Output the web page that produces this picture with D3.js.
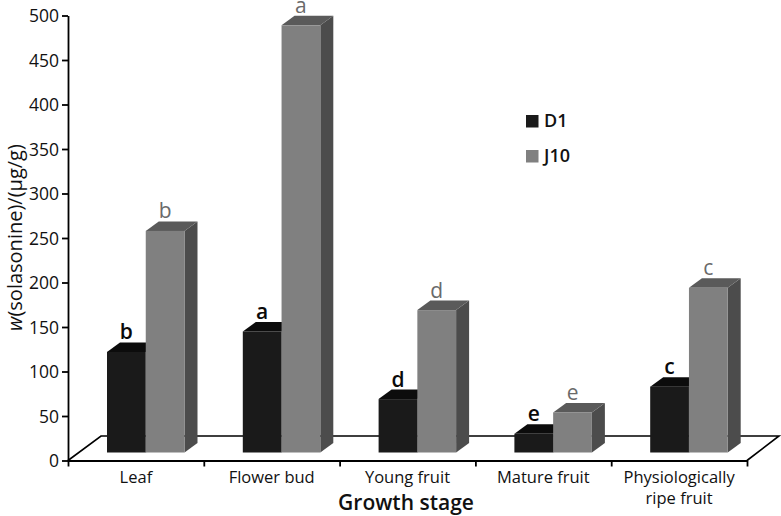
<!DOCTYPE html>
<html>
<head>
<meta charset="utf-8">
<script src="https://cdn.jsdelivr.net/npm/d3@7"></script>
<style>
  body { margin: 0; background: #fff; }
  text { font-family: "Open Sans", sans-serif; fill: #111; }
</style>
</head>
<body>
<div id="chart"></div>
<script>
'use strict';

var categories = ['Leaf', 'Flower bud', 'Young fruit', 'Mature fruit', 'Physiologically|ripe fruit'];
var seriesNames = ['D1', 'J10'];
var d1Values = [113, 136, 60, 21, 74];
var j10Values = [249, 480, 160, 45, 185];
var d1Letters = ['b', 'a', 'd', 'e', 'c'];
var j10Letters = ['b', 'a', 'd', 'e', 'c'];
var yTicks = [0, 50, 100, 150, 200, 250, 300, 350, 400, 450, 500];

var width = 781, height = 516;
var x0 = 68, x1 = 747, yBottom = 460.5, yTop = 15.5;
var depthX = 13, depthY = 9.5;   // oblique offset of the bar depth
var floorX = 33, floorY = 24.5;  // oblique offset of the floor
var frontBase = 8;               // bars stand this far above the axis line

var colors = {
    D1: { front: '#1a1a1a', top: '#0c0c0c', side: '#2a2a2a', label: '#0a0a0a' },
    J10: { front: '#808080', top: '#5a5a5a', side: '#4c4c4c', label: '#6a6a6a' }
};

var svg = d3.select('#chart').append('svg')
    .attr('width', width)
    .attr('height', height);

var x = d3.scaleBand().domain(categories).range([x0, x1]);
var xInner = d3.scaleBand().domain(seriesNames).range([39, 39 + 77.5]);
var y = d3.scaleLinear().domain([0, 500]).range([yBottom, yTop]);

// floor
svg.append('path')
    .attr('d', d3.line()([
        [x0, yBottom],
        [x0 + floorX, yBottom - floorY],
        [x1 + floorX - 1, yBottom - floorY],
        [x1, yBottom]
    ]))
    .attr('fill', 'none')
    .attr('stroke', '#000')
    .attr('stroke-width', 1.6);

function drawSeries(name, values, letters) {
    var c = colors[name];
    var g = svg.append('g').attr('class', 'series-' + name);
    var w = xInner.bandwidth();
    var left = function (i) { return x(categories[i]) + xInner(name); };
    var topY = function (d) { return y(d) - frontBase; };
    var baseY = y(0) - frontBase;

    values.forEach(function (d, i) {
        var bar = g.append('g');
        var l = left(i), t = topY(d);
        bar.append('path')
            .attr('d', d3.line()([[l + w, t], [l + w + depthX, t - depthY], [l + w + depthX, baseY - depthY], [l + w, baseY]]) + 'Z')
            .attr('fill', c.side);
        bar.append('path')
            .attr('d', d3.line()([[l, t], [l + depthX, t - depthY], [l + w + depthX, t - depthY], [l + w, t]]) + 'Z')
            .attr('fill', c.top);
        bar.append('rect')
            .attr('x', l).attr('y', t)
            .attr('width', w).attr('height', baseY - t)
            .attr('fill', c.front);
        bar.append('text')
            .attr('x', l + w / 2)
            .attr('y', t - 12.5)
            .attr('text-anchor', 'middle')
            .style('font-size', '21px')
            .style('font-weight', name === 'D1' ? 600 : 400)
            .style('fill', c.label)
            .text(letters[i]);
    });
}

drawSeries('D1', d1Values, d1Letters);
drawSeries('J10', j10Values, j10Letters);

// axes
var yAxis = svg.append('g')
    .attr('transform', 'translate(' + x0 + ',0)')
    .call(d3.axisLeft(y).tickValues(yTicks).tickSize(6).tickSizeOuter(0).tickPadding(3));
yAxis.selectAll('path, line').attr('stroke', '#000').attr('stroke-width', 1.8);
yAxis.selectAll('text')
    .attr('dy', '0.36em')
    .style('font-family', '"Open Sans", sans-serif')
    .style('font-size', '17.5px')
    .style('font-weight', 500);

var xAxisScale = d3.scalePoint().domain(d3.range(categories.length + 1)).range([x0, x1]);
var xAxis = svg.append('g')
    .attr('transform', 'translate(0,' + yBottom + ')')
    .call(d3.axisBottom(xAxisScale).tickSize(6).tickSizeOuter(0).tickFormat(''));
xAxis.selectAll('path, line').attr('stroke', '#000').attr('stroke-width', 1.8);

// category labels
categories.forEach(function (cat) {
    var lines = cat.split('|');
    var cx = x(cat) + x.bandwidth() / 2;
    lines.forEach(function (line, j) {
        svg.append('text')
            .attr('x', cx)
            .attr('y', 483 + j * 21)
            .attr('text-anchor', 'middle')
            .style('font-size', '16.5px')
            .style('font-weight', 500)
            .text(line);
    });
});

svg.append('text')
    .attr('x', 406)
    .attr('y', 510)
    .attr('text-anchor', 'middle')
    .style('font-size', '21px')
    .style('font-weight', 600)
    .text('Growth stage');

var yTitle = svg.append('text')
    .attr('transform', 'translate(22,237.5) rotate(-90)')
    .attr('text-anchor', 'middle')
    .style('font-size', '20px')
    .style('font-weight', 500);
yTitle.append('tspan').style('font-style', 'italic').text('w');
yTitle.append('tspan').text('(solasonine)/(µg/g)');

// legend
var legendY = d3.scalePoint().domain(seriesNames).range([121, 156]);
seriesNames.forEach(function (name) {
    svg.append('rect')
        .attr('x', 526).attr('y', legendY(name) - 6)
        .attr('width', 12.5).attr('height', 12.5)
        .attr('fill', colors[name].front);
    svg.append('text')
        .attr('x', 544).attr('y', legendY(name) + 6)
        .style('font-size', '18px')
        .style('font-weight', 600)
        .text(name);
});
</script>
</body>
</html>
